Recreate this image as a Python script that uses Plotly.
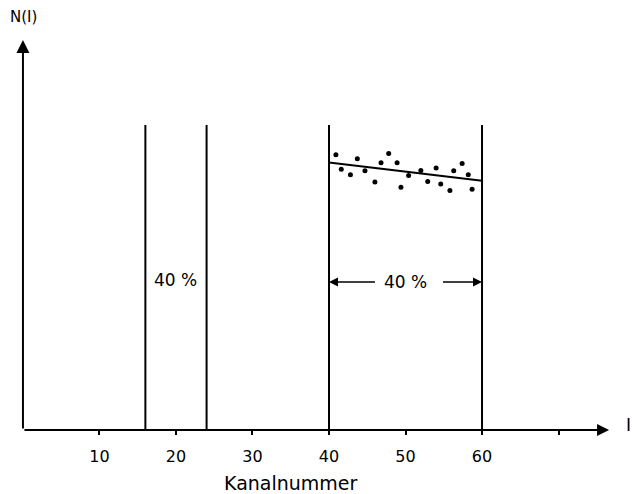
import plotly.graph_objects as go

# ---- data ----
channels = [40.9, 41.6, 42.8, 43.7, 44.7, 46.0, 46.8, 47.8, 48.9, 49.4,
            50.4, 52.0, 52.9, 54.0, 54.6, 55.8, 56.3, 57.4, 58.2, 58.7]
counts = [68.8, 65.2, 63.8, 67.8, 64.8, 62.0, 66.8, 69.1, 66.8, 60.7,
          63.6, 64.9, 62.1, 65.5, 61.5, 59.9, 64.8, 66.6, 63.8, 60.2]
fit_x = [40, 60]
fit_y = [66.9, 62.3]
window_edges = [16, 24, 40, 60]
window_top = 76.25
tick_vals = [10, 20, 30, 40, 50, 60, 70]
tick_text = ["10", "20", "30", "40", "50", "60", ""]
x_axis_end = 76.6
y_axis_end = 97.5

FONT = "DejaVu Sans"

fig = go.Figure()

# vertical window lines
vx, vy = [], []
for e in window_edges:
    vx += [e, e, None]
    vy += [0, window_top, None]
fig.add_trace(go.Scatter(x=vx, y=vy, mode="lines",
                         line=dict(color="black", width=2), hoverinfo="skip"))

# fit line
fig.add_trace(go.Scatter(x=fit_x, y=fit_y, mode="lines",
                         line=dict(color="black", width=2), hoverinfo="skip"))

# data points
fig.add_trace(go.Scatter(x=channels, y=counts, mode="markers",
                         marker=dict(color="black", size=5), hoverinfo="skip"))

ann = []
# axes with arrows
ann.append(dict(x=x_axis_end, y=0, ax=0, ay=0, xref="x", yref="y", axref="x", ayref="y",
                showarrow=True, arrowhead=2, arrowsize=1.2, arrowwidth=2, arrowcolor="black", text=""))
ann.append(dict(x=0, y=y_axis_end, ax=0, ay=0, xref="x", yref="y", axref="x", ayref="y",
                showarrow=True, arrowhead=2, arrowsize=1.3, arrowwidth=2, arrowcolor="black", text=""))
# axis labels
ann.append(dict(x=79.1, y=1.3, xref="x", yref="y", text="I", showarrow=False,
                font=dict(family=FONT, size=17, color="black")))
ann.append(dict(x=0.1, y=1.0325, xref="x", yref="paper", text="N(I)", showarrow=False,
                xanchor="center", yanchor="middle",
                font=dict(family=FONT, size=15, color="black")))
ann.append(dict(x=35.0, y=-0.1325, xref="x", yref="paper", text="Kanalnummer", showarrow=False,
                xanchor="center", yanchor="middle",
                font=dict(family=FONT, size=19, color="black")))
# window labels
ann.append(dict(x=20, y=37.5, xref="x", yref="y", text="40 %", showarrow=False,
                font=dict(family=FONT, size=17, color="black")))
ann.append(dict(x=50, y=37, xref="x", yref="y", text="40 %", showarrow=False,
                font=dict(family=FONT, size=17, color="black")))
ann.append(dict(x=40, y=37, ax=46.2, ay=37, xref="x", yref="y", axref="x", ayref="y",
                showarrow=True, arrowhead=2, arrowsize=1.2, arrowwidth=1.5, arrowcolor="black", text=""))
ann.append(dict(x=60, y=37, ax=54.7, ay=37, xref="x", yref="y", axref="x", ayref="y",
                showarrow=True, arrowhead=2, arrowsize=1.2, arrowwidth=1.5, arrowcolor="black", text=""))

fig.update_layout(
    width=632, height=494,
    margin=dict(l=0, r=0, t=30, b=64),
    paper_bgcolor="white", plot_bgcolor="white",
    showlegend=False,
    annotations=ann,
    xaxis=dict(range=[-3.0, 79.6], showgrid=False, zeroline=False, showline=False,
               tickvals=tick_vals, ticktext=tick_text, ticks="outside", ticklen=4,
               tickwidth=1.5, tickcolor="black", ticklabelstandoff=8,
               tickfont=dict(family=FONT, size=16, color="black")),
    yaxis=dict(range=[0, 100], visible=False),
)

fig.write_html("out.html")
